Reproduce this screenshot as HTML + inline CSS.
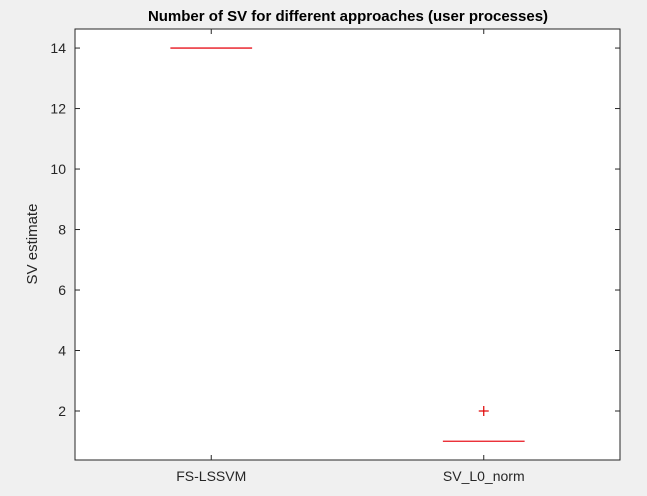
<!DOCTYPE html>
<html><head><meta charset="utf-8"><style>
html,body{margin:0;padding:0;background:#f0f0f0;}
svg{display:block;font-family:"Liberation Sans",Arial,sans-serif;}
</style></head><body>
<svg id="chart" width="647" height="496" viewBox="0 0 647 496">
<rect x="0" y="0" width="647" height="496" fill="#f0f0f0"/>
<rect x="75" y="29" width="545" height="431" fill="#ffffff"/>
<g id="ticks"></g>
<g id="marks"></g>
<rect x="75" y="29" width="545" height="431" fill="none" stroke="#262626" stroke-width="1"/>
<text x="348" y="21" text-anchor="middle" font-size="15" font-weight="bold" fill="#000">Number of SV for different approaches (user processes)</text>
<text transform="translate(37,244) rotate(-90)" text-anchor="middle" font-size="15" fill="#262626">SV estimate</text>
</svg>
<script>
const categories = ["FS-LSSVM", "SV_L0_norm"];
const medians = [14, 1];
const outliers = [[], [2]];
const yTicks = [2, 4, 6, 8, 10, 12, 14];

const L=75,R=620,T=29,B=460;
const yMin=0.38,yMax=14.63;
const xs=i=>L+(R-L)*((i+1)-0.5)/2;
const ys=v=>B-(B-T)*(v-yMin)/(yMax-yMin);
const NS="http://www.w3.org/2000/svg";
const tg=document.getElementById('ticks'), mg=document.getElementById('marks');
function mk(tag,attrs,parent){const e=document.createElementNS(NS,tag);for(const k in attrs)e.setAttribute(k,attrs[k]);parent.appendChild(e);return e;}
yTicks.forEach(v=>{
  const y=ys(v);
  const t1=mk('line',{x1:L,x2:L+5,y1:y,y2:y,stroke:'#262626'},tg);
  
  
  const t2=mk('line',{x1:R-5,x2:R,y1:y,y2:y,stroke:'#262626'},tg);
  
  
  const lb=mk('text',{x:L-9,y:y+5,'text-anchor':'end','font-size':'14',fill:'#262626'},tg);
  lb.textContent=v;
  
  
});
categories.forEach((c,i)=>{
  const x=xs(i);
  const t1=mk('line',{x1:x,x2:x,y1:B,y2:B-5,stroke:'#262626'},tg);
  
  
  const t2=mk('line',{x1:x,x2:x,y1:T,y2:T+5,stroke:'#262626'},tg);
  
  
  const lb=mk('text',{x:x,y:B+21,'text-anchor':'middle','font-size':'14',fill:'#262626'},tg);
  lb.textContent=c;
  
  
  const hw=(R-L)/2*0.15;
  const m=mk('line',{x1:x-hw,x2:x+hw,y1:ys(medians[i]),y2:ys(medians[i]),stroke:'#e8141e','stroke-width':'1.3'},mg);
  
  
  outliers[i].forEach(o=>{
    const y=ys(o);
    const g=mk('g',{stroke:'#e00000','stroke-width':'1.2'},mg);
    
    
    mk('line',{x1:x-5,x2:x+5,y1:y,y2:y},g);
    mk('line',{x1:x,x2:x,y1:y-5,y2:y+5},g);
  });
});
</script>
</body></html>
